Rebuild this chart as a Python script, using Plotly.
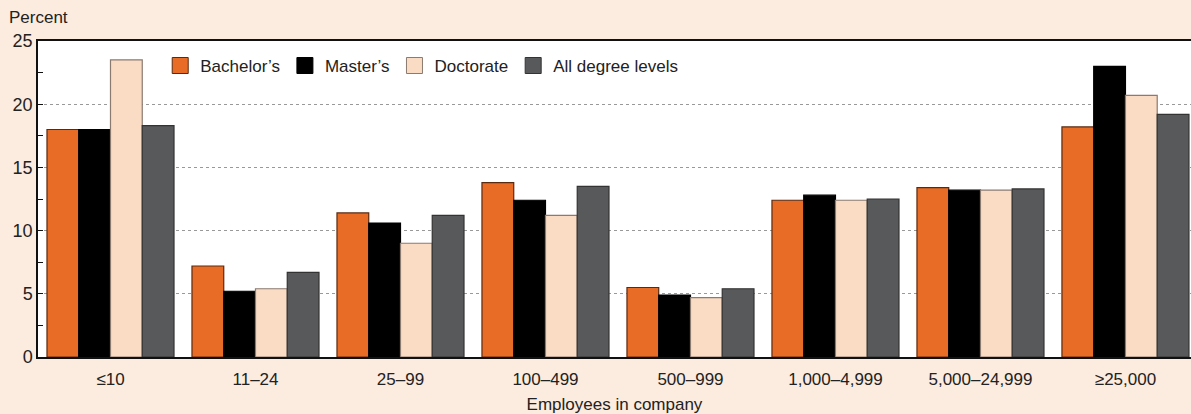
import plotly.graph_objects as go

categories = ["≤10", "11–24", "25–99", "100–499", "500–999", "1,000–4,999", "5,000–24,999", "≥25,000"]
bachelors = [18.0, 7.2, 11.4, 13.8, 5.5, 12.4, 13.4, 18.2]
masters = [18.0, 5.2, 10.6, 12.4, 4.9, 12.8, 13.2, 23.0]
doctorate = [23.5, 5.4, 9.0, 11.2, 4.7, 12.4, 13.2, 20.7]
all_levels = [18.3, 6.7, 11.2, 13.5, 5.4, 12.5, 13.3, 19.2]
series_names = ["Bachelor’s", "Master’s", "Doctorate", "All degree levels"]
y_ticks = [0, 5, 10, 15, 20, 25]

colors = ["#E86C25", "#000000", "#FADCC4", "#58595B"]
outlines = ["#5a2a10", "#000000", "#8a7a70", "#333333"]

fig = go.Figure()
for name, vals, c, o in zip(series_names, [bachelors, masters, doctorate, all_levels], colors, outlines):
    fig.add_trace(go.Bar(x=categories, y=vals, name=name, marker=dict(color=c, line=dict(color=o, width=1.2)),
                         showlegend=False))
for name, c, o in zip(series_names, colors, outlines):
    fig.add_trace(go.Scatter(x=[None], y=[None], mode="markers", name=name,
                             marker=dict(symbol="square", size=18, color=c, line=dict(color=o, width=1))))

font = "Liberation Sans, Arial, Helvetica, sans-serif"
fig.update_layout(
    width=1191, height=414,
    margin=dict(l=38, r=0, t=41, b=57),
    paper_bgcolor="#FCEBDF",
    plot_bgcolor="#FFFFFF",
    barmode="group",
    bargap=0.124,
    bargroupgap=0,
    font=dict(family=font, size=17, color="#222222"),
    legend=dict(orientation="h", x=0.106, y=0.978, xanchor="left", yanchor="top",
                bgcolor="rgba(0,0,0,0)", font=dict(size=17, color="#222222"),
                itemwidth=30, tracegroupgap=0),
    xaxis=dict(range=[-0.5, 7.452], showline=True, linecolor="#111111", linewidth=2, mirror=True,
               ticks="", showgrid=False, tickfont=dict(size=17), ticklabelstandoff=6,
               title=dict(text="Employees in company", font=dict(size=17), standoff=14)),
    yaxis=dict(range=[0, 25], tickvals=y_ticks, ticks="inside", ticklen=5, tickcolor="#111111",
               showline=True, linecolor="#111111", linewidth=1.5,
               showgrid=True, gridcolor="#999999", griddash="3px,3px", gridwidth=1,
               minor=dict(dtick=2.5, tick0=0, ticks="inside", ticklen=5, tickcolor="#111111", showgrid=False),
               tickfont=dict(size=18), zeroline=False),
    annotations=[dict(text="Percent", x=0, y=1, xref="paper", yref="paper", xanchor="left", yanchor="bottom",
                      xshift=-31, yshift=12, showarrow=False, font=dict(size=17, color="#222222"))],
)

fig.write_html("out.html", config={"displayModeBar": False},
               post_script="document.body.style.margin='0';document.body.style.padding='0';")
